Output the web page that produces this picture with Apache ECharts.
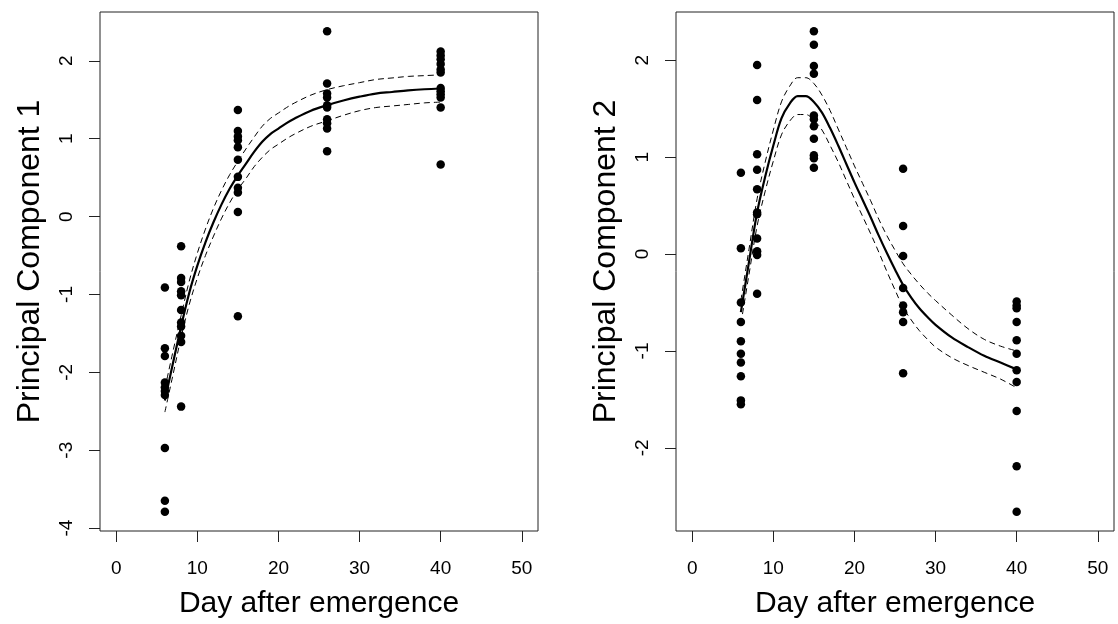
<!DOCTYPE html>
<html>
<head>
<meta charset="utf-8">
<script src="https://cdn.jsdelivr.net/npm/echarts@6/dist/echarts.min.js"></script>
<style>
html,body{margin:0;padding:0;background:#fff;}
#chart{width:1118px;height:624px;}
</style>
</head>
<body>
<div id="chart"></div>
<script>
// ---- data ----
const sampleDays = [6, 8, 15, 26, 40];

// Principal Component 1 observations per day
const pc1Day6  = [-0.91, -1.69, -1.79, -2.13, -2.19, -2.24, -2.29, -2.97, -3.65, -3.79];
const pc1Day8  = [-0.38, -0.79, -0.84, -0.96, -1.01, -1.20, -1.36, -1.41, -1.53, -1.61, -2.44];
const pc1Day15 = [1.37, 1.10, 1.03, 0.98, 0.89, 0.73, 0.51, 0.37, 0.31, 0.06, -1.28];
const pc1Day26 = [2.38, 1.71, 1.58, 1.53, 1.43, 1.40, 1.25, 1.20, 1.13, 0.84];
const pc1Day40 = [2.12, 2.07, 2.02, 1.96, 1.89, 1.85, 1.65, 1.61, 1.57, 1.53, 1.40, 0.67];

// Principal Component 2 observations per day
const pc2Day6  = [0.84, 0.06, -0.50, -0.70, -0.90, -1.03, -1.12, -1.26, -1.51, -1.55];
const pc2Day8  = [1.95, 1.59, 1.03, 0.87, 0.67, 0.43, 0.41, 0.16, 0.03, -0.01, -0.41];
const pc2Day15 = [2.30, 2.16, 1.94, 1.86, 1.43, 1.39, 1.32, 1.19, 1.02, 0.99, 0.89];
const pc2Day26 = [0.88, 0.29, -0.02, -0.35, -0.53, -0.60, -0.70, -1.23];
const pc2Day40 = [-0.49, -0.53, -0.56, -0.70, -0.89, -1.03, -1.20, -1.32, -1.62, -2.19, -2.66];

// Fitted curve and confidence band, PC1
const fit1Days  = [6, 7, 8, 9, 10, 11, 12, 13, 14, 15, 16, 17, 18, 19, 20, 21, 22, 24, 26, 28, 30, 32, 34, 36, 38, 40];
const fit1Mean  = [-2.36, -1.88, -1.41, -0.98, -0.63, -0.33, -0.07, 0.16, 0.36, 0.53, 0.68, 0.83, 0.96, 1.06, 1.13, 1.20, 1.26, 1.36, 1.43, 1.49, 1.54, 1.58, 1.60, 1.62, 1.635, 1.645];
const fit1Upper = [-2.21, -1.73, -1.27, -0.83, -0.47, -0.16, 0.11, 0.34, 0.54, 0.71, 0.87, 1.02, 1.16, 1.26, 1.33, 1.40, 1.46, 1.56, 1.63, 1.68, 1.72, 1.76, 1.78, 1.80, 1.81, 1.82];
const fit1Lower = [-2.51, -2.03, -1.55, -1.13, -0.79, -0.50, -0.25, -0.02, 0.18, 0.35, 0.49, 0.64, 0.76, 0.86, 0.93, 1.00, 1.06, 1.16, 1.23, 1.30, 1.36, 1.40, 1.42, 1.44, 1.46, 1.47];

// Fitted curve and confidence band, PC2
const fit2Days  = [6, 7, 8, 9, 10, 11, 12, 13, 14, 15, 16, 17, 18, 19, 20, 21, 22, 23, 24, 25, 26, 27, 28, 29, 30, 32, 34, 36, 38, 40];
const fit2Mean  = [-0.60, -0.08, 0.43, 0.80, 1.12, 1.40, 1.55, 1.63, 1.63, 1.57, 1.46, 1.30, 1.12, 0.93, 0.74, 0.56, 0.38, 0.19, 0.01, -0.16, -0.32, -0.45, -0.56, -0.65, -0.73, -0.86, -0.96, -1.05, -1.12, -1.19];
const fit2Upper = [-0.48, 0.05, 0.57, 0.95, 1.28, 1.57, 1.73, 1.82, 1.82, 1.76, 1.64, 1.48, 1.29, 1.10, 0.91, 0.73, 0.55, 0.36, 0.19, 0.04, -0.10, -0.21, -0.31, -0.40, -0.48, -0.63, -0.77, -0.88, -0.95, -1.00];
const fit2Lower = [-0.72, -0.21, 0.29, 0.65, 0.96, 1.23, 1.37, 1.44, 1.44, 1.38, 1.28, 1.12, 0.95, 0.76, 0.57, 0.39, 0.21, 0.02, -0.18, -0.37, -0.55, -0.68, -0.79, -0.88, -0.96, -1.07, -1.15, -1.22, -1.29, -1.38];

// Tick labels
const xTicks = [0, 10, 20, 30, 40, 50];
const y1Ticks = [-4, -3, -2, -1, 0, 1, 2];
const y2Ticks = [-2, -1, 0, 1, 2];

// ---- build ----
function pairs(groups) {
  const out = [];
  groups.forEach((vals, i) => vals.forEach(v => out.push([sampleDays[i], v])));
  return out;
}
function zip(xs, ys) { return xs.map((x, i) => [x, ys[i]]); }

const pc1Points = pairs([pc1Day6, pc1Day8, pc1Day15, pc1Day26, pc1Day40]);
const pc2Points = pairs([pc2Day6, pc2Day8, pc2Day15, pc2Day26, pc2Day40]);

const FONT = '"Liberation Sans", Arial, sans-serif';

function xAxisDef(gi) {
  return {
    type: 'value', gridIndex: gi, min: -2, max: 52,
    name: 'Day after emergence', nameLocation: 'middle', nameGap: 58,
    nameTextStyle: { fontFamily: FONT, fontSize: 30, color: '#000' },
    axisLine: { show: false, onZero: false },
    axisTick: { show: true, inside: false, length: 11, customValues: xTicks, lineStyle: { color: '#222', width: 1 } },
    axisLabel: { customValues: xTicks, margin: 28, fontFamily: FONT, fontSize: 19, color: '#000' },
    splitLine: { show: false }
  };
}
function yAxisDef(gi, min, max, ticks, name) {
  return {
    type: 'value', gridIndex: gi, min: min, max: max,
    name: name, nameLocation: 'middle', nameGap: 54, nameRotate: 90,
    nameTextStyle: { fontFamily: FONT, fontSize: 32, color: '#000', padding: [0, 0, 0, 20] },
    axisLine: { show: false, onZero: false },
    axisTick: { show: true, inside: false, length: 11, customValues: ticks, lineStyle: { color: '#222', width: 1 } },
    axisLabel: { customValues: ticks, rotate: 90, margin: 24, fontFamily: FONT, fontSize: 19, color: '#000' },
    splitLine: { show: false }
  };
}
function lineSeries(gi, data, dashed) {
  return {
    type: 'line', xAxisIndex: gi, yAxisIndex: gi, data: data, smooth: 0.35,
    symbol: 'none', silent: true, z: 3,
    lineStyle: dashed ? { color: '#000', width: 1, type: [6, 4] } : { color: '#000', width: 2.2 }
  };
}
function scatterSeries(gi, data) {
  return {
    type: 'scatter', xAxisIndex: gi, yAxisIndex: gi, data: data, symbol: 'circle', symbolSize: 8.5,
    itemStyle: { color: '#000', opacity: 1 }, z: 2
  };
}

const option = {
  animation: false,
  backgroundColor: '#fff',
  grid: [
    { left: 100, top: 12, width: 438, height: 519, show: true, borderColor: '#222', borderWidth: 1, backgroundColor: 'transparent' },
    { left: 676, top: 12, width: 438, height: 519, show: true, borderColor: '#222', borderWidth: 1, backgroundColor: 'transparent' }
  ],
  xAxis: [xAxisDef(0), xAxisDef(1)],
  yAxis: [
    yAxisDef(0, -4.037, 2.627, y1Ticks, 'Principal Component 1'),
    yAxisDef(1, -2.858, 2.498, y2Ticks, 'Principal Component 2')
  ],
  series: [
    scatterSeries(0, pc1Points),
    lineSeries(0, zip(fit1Days, fit1Mean), false),
    lineSeries(0, zip(fit1Days, fit1Upper), true),
    lineSeries(0, zip(fit1Days, fit1Lower), true),
    scatterSeries(1, pc2Points),
    lineSeries(1, zip(fit2Days, fit2Mean), false),
    lineSeries(1, zip(fit2Days, fit2Upper), true),
    lineSeries(1, zip(fit2Days, fit2Lower), true)
  ]
};

const chart = echarts.init(document.getElementById('chart'), null, { renderer: 'canvas' });
chart.setOption(option);
</script>
</body>
</html>
